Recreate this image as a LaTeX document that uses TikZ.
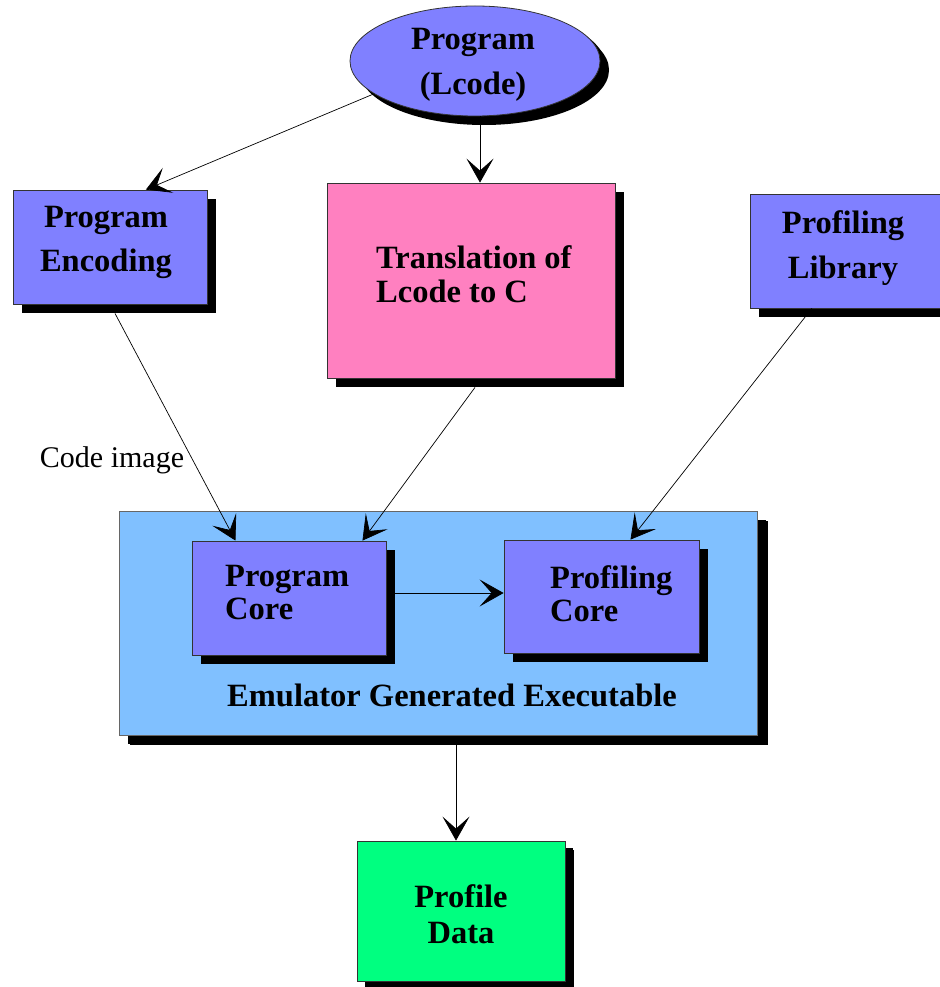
\documentclass[tikz,border=0pt]{standalone}
\usepackage{fontspec}
\setmainfont{Liberation Serif}
\usetikzlibrary{shadows,arrows.meta,calc,shapes.geometric}
\definecolor{boxblue}{RGB}{128,128,255}
\definecolor{boxpink}{RGB}{255,128,192}
\definecolor{boxsky}{RGB}{128,192,255}
\definecolor{boxgreen}{RGB}{0,255,128}
\tikzset{
  shade9/.style={drop shadow={shadow xshift=9pt,shadow yshift=-9pt,fill=black,opacity=1}},
  shade5/.style={drop shadow={shadow xshift=5pt,shadow yshift=-4pt,fill=black,opacity=1}},
  boxnode/.style={draw=black!80,line width=0.8pt,inner sep=0pt,shade9},
  lbl/.style={inner sep=0pt,font=\fontsize{32.5}{#1}\selectfont\bfseries},
  lbl/.default=45,
  arr/.style={line width=0.7pt,-{Stealth[length=24pt,width=27pt,inset=12pt]}},
}
\begin{document}
\begin{tikzpicture}[x=1pt,y=-1pt]
\useasboundingbox (0,0) rectangle (939,987);
% boxes
\node[boxnode,shade5,ellipse,fill=boxblue,minimum width=250pt,minimum height=110pt] (ell) at (475,61) {};
\node[boxnode,fill=boxblue,minimum width=194pt,minimum height=114pt] (enc) at (110,247) {};
\node[boxnode,fill=boxpink,minimum width=288pt,minimum height=195pt] (trans) at (471,280.5) {};
\node[boxnode,fill=boxblue,minimum width=190pt,minimum height=114pt] (lib) at (845,251) {};
\node[boxnode,draw=black!60,fill=boxsky,minimum width=638pt,minimum height=224pt,drop shadow={shadow xshift=11pt,shadow yshift=-10pt,fill=black,opacity=1}] (emu) at (438,623) {};
\node[boxnode,fill=boxblue,minimum width=194pt,minimum height=114pt] (pcore) at (289,598) {};
\node[boxnode,fill=boxblue,minimum width=195pt,minimum height=113pt] (prcore) at (601.5,596.5) {};
\node[boxnode,fill=boxgreen,minimum width=208pt,minimum height=140pt,drop shadow={shadow xshift=8pt,shadow yshift=-7pt,fill=black,opacity=1}] (data) at (461,911) {};
% labels
\node[lbl=45,align=center] (ell-t) at (473,64.5) {Program\\(Lcode)};
\node[lbl=44,align=center] (enc-t) at (106,242.5) {Program\\Encoding};
\node[lbl=34,align=left,anchor=west] (trans-t) at (376,274) {Translation of\\Lcode to C};
\node[lbl=45,align=center] (lib-t) at (843,248) {Profiling\\Library};
\node[lbl=33,align=left,anchor=west] (pcore-t) at (225,592.5) {Program\\Core};
\node[lbl=33,align=left,anchor=west] (prcore-t) at (550,593.5) {Profiling\\Core};
\node[lbl=36,align=center] (data-t) at (461,914) {Profile\\Data};
\node[lbl,anchor=base] (emu-t) at (452,706) {Emulator Generated Executable};
\node[inner sep=0pt,font=\fontsize{30}{36}\selectfont,anchor=base] (code) at (112,467) {Code image};
% connectors
\draw[arr] ($(ell.south)+(5,0)$) -- ($(trans.north)+(9,0)$);
\draw[arr] (ell.198) -- (enc.58);
\draw[arr] ($(enc.south)+(5,9)$) -- (pcore.133);
\draw[arr] ($(trans.south)+(4,9)$) -- (pcore.38);
\draw[arr] (lib.240) -- (prcore.63);
\draw[arr] ($(pcore.east)+(9,-5)$) -- ($(prcore.west)+(0,-3.5)$);
\draw[arr] ($(emu.south)+(18,10)$) -- ($(data.north)+(-5,0)$);
\end{tikzpicture}
\end{document}
